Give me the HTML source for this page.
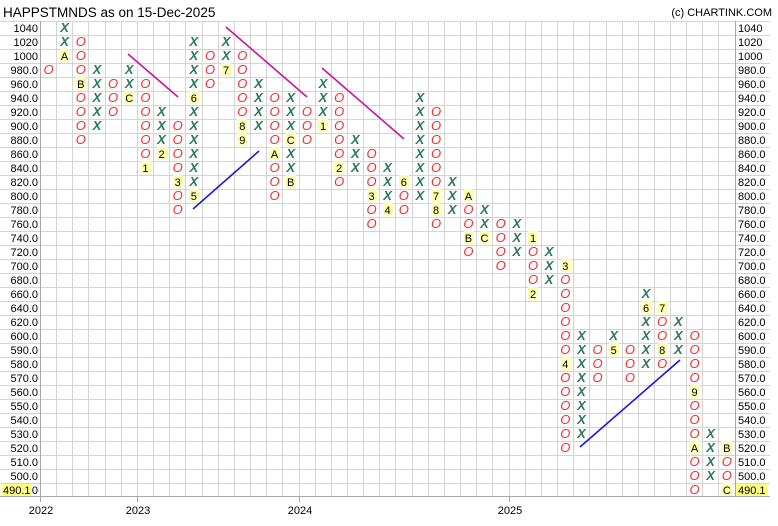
<!DOCTYPE html>
<html><head><meta charset="utf-8"><style>
html,body{margin:0;padding:0;background:#fff;}
svg{display:block;font-family:"Liberation Sans",sans-serif;}
.x{font-size:13px;font-style:italic;font-weight:bold;fill:#2a7a5a;text-anchor:middle;}
.o{font-size:13px;font-style:italic;fill:#ff2a2a;text-anchor:middle;}
.m{font-size:11px;fill:#000;text-anchor:middle;}
.l{font-size:11px;fill:#000;}
</style></head><body>
<svg width="778" height="526" viewBox="0 0 778 526" xmlns="http://www.w3.org/2000/svg">
<defs>
<g id="hl"><path d="M0 21.5H770" stroke="#d4d4d4"/></g>
</defs>
<g stroke="#d4d4d4" stroke-width="1" id="grid"></g>
<g stroke="#d4d4d4" stroke-width="1">
<path d="M0 21.5H770M0 35.5H770M0 49.5H770M0 63.5H770M0 77.5H770M0 91.5H770M0 105.5H770M0 119.5H770M0 133.5H770M0 147.5H770M0 161.5H770M0 175.5H770M0 189.5H770M0 203.5H770M0 217.5H770M0 231.5H770M0 245.5H770M0 259.5H770M0 273.5H770M0 287.5H770M0 301.5H770M0 315.5H770M0 329.5H770M0 343.5H770M0 357.5H770M0 371.5H770M0 385.5H770M0 399.5H770M0 413.5H770M0 427.5H770M0 441.5H770M0 455.5H770M0 469.5H770M0 483.5H770"/>
<path d="M56.5 21V496M72.5 21V496M88.5 21V496M105.5 21V496M121.5 21V496M137.5 21V496M153.5 21V496M169.5 21V496M185.5 21V496M202.5 21V496M218.5 21V496M234.5 21V496M250.5 21V496M266.5 21V496M282.5 21V496M299.5 21V496M315.5 21V496M331.5 21V496M347.5 21V496M363.5 21V496M379.5 21V496M395.5 21V496M412.5 21V496M428.5 21V496M444.5 21V496M460.5 21V496M476.5 21V496M492.5 21V496M509.5 21V496M525.5 21V496M541.5 21V496M557.5 21V496M573.5 21V496M589.5 21V496M606.5 21V496M622.5 21V496M638.5 21V496M654.5 21V496M670.5 21V496M686.5 21V496M702.5 21V496M718.5 21V496"/>
</g>
<g stroke="#a8a8a8" stroke-width="1">
<path d="M40.5 21V496M735.5 21V496M0 496.5H770"/>
<path d="M40.5 496V502M137.5 496V502M299.5 496V502M509.5 496V502"/>
</g>
<text x="3" y="17" style="font-size:13.5px" fill="#000">HAPPSTMNDS as on 15-Dec-2025</text>
<text x="772" y="16" style="font-size:11px;text-anchor:end" fill="#000">(c) CHARTINK.COM</text>
<g class="l" style="text-anchor:end">
<text x="38" y="32">1040</text><text x="38" y="46">1020</text><text x="38" y="60">1000</text><text x="38" y="74">980.0</text><text x="38" y="88">960.0</text><text x="38" y="102">940.0</text><text x="38" y="116">920.0</text><text x="38" y="130">900.0</text><text x="38" y="144">880.0</text><text x="38" y="158">860.0</text><text x="38" y="172">840.0</text><text x="38" y="186">820.0</text><text x="38" y="200">800.0</text><text x="38" y="214">780.0</text><text x="38" y="228">760.0</text><text x="38" y="242">740.0</text><text x="38" y="256">720.0</text><text x="38" y="270">700.0</text><text x="38" y="284">680.0</text><text x="38" y="298">660.0</text><text x="38" y="312">640.0</text><text x="38" y="326">620.0</text><text x="38" y="340">600.0</text><text x="38" y="354">590.0</text><text x="38" y="368">580.0</text><text x="38" y="382">570.0</text><text x="38" y="396">560.0</text><text x="38" y="410">550.0</text><text x="38" y="424">540.0</text><text x="38" y="438">530.0</text><text x="38" y="452">520.0</text><text x="38" y="466">510.0</text><text x="38" y="480">500.0</text><text x="38" y="494">490.0</text>
</g>
<rect x="2" y="484" width="30" height="12" fill="#ffff80"/>
<text x="3" y="494" class="l">490.1</text>
<g class="l">
<text x="738" y="32">1040</text><text x="738" y="46">1020</text><text x="738" y="60">1000</text><text x="738" y="74">980.0</text><text x="738" y="88">960.0</text><text x="738" y="102">940.0</text><text x="738" y="116">920.0</text><text x="738" y="130">900.0</text><text x="738" y="144">880.0</text><text x="738" y="158">860.0</text><text x="738" y="172">840.0</text><text x="738" y="186">820.0</text><text x="738" y="200">800.0</text><text x="738" y="214">780.0</text><text x="738" y="228">760.0</text><text x="738" y="242">740.0</text><text x="738" y="256">720.0</text><text x="738" y="270">700.0</text><text x="738" y="284">680.0</text><text x="738" y="298">660.0</text><text x="738" y="312">640.0</text><text x="738" y="326">620.0</text><text x="738" y="340">600.0</text><text x="738" y="354">590.0</text><text x="738" y="368">580.0</text><text x="738" y="382">570.0</text><text x="738" y="396">560.0</text><text x="738" y="410">550.0</text><text x="738" y="424">540.0</text><text x="738" y="438">530.0</text><text x="738" y="452">520.0</text><text x="738" y="466">510.0</text><text x="738" y="480">500.0</text>
</g>
<rect x="736" y="484" width="32" height="12" fill="#ffff80"/>
<text x="738" y="494" class="l">490.1</text>
<g class="l" style="text-anchor:middle">
<text x="41" y="514">2022</text><text x="138" y="514">2023</text><text x="300" y="514">2024</text><text x="510" y="514">2025</text>
</g>
<g fill="#ffffb0">
<rect x="60" y="49" width="10" height="13"/><rect x="76" y="77" width="10" height="13"/><rect x="124" y="91" width="10" height="13"/><rect x="141" y="161" width="10" height="13"/><rect x="157" y="147" width="10" height="13"/><rect x="173" y="175" width="10" height="13"/><rect x="189" y="91" width="10" height="13"/><rect x="189" y="189" width="10" height="13"/><rect x="221" y="63" width="10" height="13"/><rect x="237" y="119" width="10" height="13"/><rect x="237" y="133" width="10" height="13"/><rect x="270" y="147" width="10" height="13"/><rect x="286" y="133" width="10" height="13"/><rect x="286" y="175" width="10" height="13"/><rect x="318" y="119" width="10" height="13"/><rect x="334" y="161" width="10" height="13"/><rect x="367" y="189" width="10" height="13"/><rect x="383" y="203" width="10" height="13"/><rect x="399" y="175" width="10" height="13"/><rect x="431" y="189" width="10" height="13"/><rect x="431" y="203" width="10" height="13"/><rect x="464" y="189" width="10" height="13"/><rect x="464" y="231" width="10" height="13"/><rect x="480" y="231" width="10" height="13"/><rect x="528" y="231" width="10" height="13"/><rect x="528" y="287" width="10" height="13"/><rect x="561" y="259" width="10" height="13"/><rect x="561" y="357" width="10" height="13"/><rect x="609" y="343" width="10" height="13"/><rect x="642" y="301" width="10" height="13"/><rect x="658" y="301" width="10" height="13"/><rect x="658" y="343" width="10" height="13"/><rect x="690" y="385" width="10" height="13"/><rect x="690" y="441" width="10" height="13"/><rect x="722" y="441" width="10" height="13"/><rect x="722" y="483" width="10" height="13"/>
</g>
<g>
<g transform="translate(48.5,0)"><text class="o" y="74">O</text></g>
<g transform="translate(64.6,0)"><text class="x" y="32">X</text><text class="x" y="46">X</text><text class="m" y="60">A</text></g>
<g transform="translate(80.8,0)"><text class="o" y="46">O</text><text class="o" y="60">O</text><text class="o" y="74">O</text><text class="m" y="88">B</text><text class="o" y="102">O</text><text class="o" y="116">O</text><text class="o" y="130">O</text><text class="o" y="144">O</text></g>
<g transform="translate(96.9,0)"><text class="x" y="74">X</text><text class="x" y="88">X</text><text class="x" y="102">X</text><text class="x" y="116">X</text><text class="x" y="130">X</text></g>
<g transform="translate(113.1,0)"><text class="o" y="88">O</text><text class="o" y="102">O</text><text class="o" y="116">O</text></g>
<g transform="translate(129.2,0)"><text class="x" y="74">X</text><text class="x" y="88">X</text><text class="m" y="102">C</text></g>
<g transform="translate(145.4,0)"><text class="o" y="88">O</text><text class="o" y="102">O</text><text class="o" y="116">O</text><text class="o" y="130">O</text><text class="o" y="144">O</text><text class="o" y="158">O</text><text class="m" y="172">1</text></g>
<g transform="translate(161.5,0)"><text class="x" y="116">X</text><text class="x" y="130">X</text><text class="x" y="144">X</text><text class="m" y="158">2</text></g>
<g transform="translate(177.7,0)"><text class="o" y="130">O</text><text class="o" y="144">O</text><text class="o" y="158">O</text><text class="o" y="172">O</text><text class="m" y="186">3</text><text class="o" y="200">O</text><text class="o" y="214">O</text></g>
<g transform="translate(193.8,0)"><text class="x" y="46">X</text><text class="x" y="60">X</text><text class="x" y="74">X</text><text class="x" y="88">X</text><text class="m" y="102">6</text><text class="x" y="116">X</text><text class="x" y="130">X</text><text class="x" y="144">X</text><text class="x" y="158">X</text><text class="x" y="172">X</text><text class="x" y="186">X</text><text class="m" y="200">5</text></g>
<g transform="translate(210,0)"><text class="o" y="60">O</text><text class="o" y="74">O</text><text class="o" y="88">O</text></g>
<g transform="translate(226.1,0)"><text class="x" y="46">X</text><text class="x" y="60">X</text><text class="m" y="74">7</text></g>
<g transform="translate(242.3,0)"><text class="o" y="60">O</text><text class="o" y="74">O</text><text class="o" y="88">O</text><text class="o" y="102">O</text><text class="o" y="116">O</text><text class="m" y="130">8</text><text class="m" y="144">9</text></g>
<g transform="translate(258.4,0)"><text class="x" y="88">X</text><text class="x" y="102">X</text><text class="x" y="116">X</text><text class="x" y="130">X</text></g>
<g transform="translate(274.6,0)"><text class="o" y="102">O</text><text class="o" y="116">O</text><text class="o" y="130">O</text><text class="o" y="144">O</text><text class="m" y="158">A</text><text class="o" y="172">O</text><text class="o" y="186">O</text><text class="o" y="200">O</text></g>
<g transform="translate(290.7,0)"><text class="x" y="102">X</text><text class="x" y="116">X</text><text class="x" y="130">X</text><text class="m" y="144">C</text><text class="x" y="158">X</text><text class="x" y="172">X</text><text class="m" y="186">B</text></g>
<g transform="translate(306.9,0)"><text class="o" y="116">O</text><text class="o" y="130">O</text><text class="o" y="144">O</text></g>
<g transform="translate(323,0)"><text class="x" y="88">X</text><text class="x" y="102">X</text><text class="x" y="116">X</text><text class="m" y="130">1</text></g>
<g transform="translate(339.2,0)"><text class="o" y="102">O</text><text class="o" y="116">O</text><text class="o" y="130">O</text><text class="o" y="144">O</text><text class="o" y="158">O</text><text class="m" y="172">2</text><text class="o" y="186">O</text></g>
<g transform="translate(355.3,0)"><text class="x" y="144">X</text><text class="x" y="158">X</text><text class="x" y="172">X</text></g>
<g transform="translate(371.5,0)"><text class="o" y="158">O</text><text class="o" y="172">O</text><text class="o" y="186">O</text><text class="m" y="200">3</text><text class="o" y="214">O</text><text class="o" y="228">O</text></g>
<g transform="translate(387.6,0)"><text class="x" y="172">X</text><text class="x" y="186">X</text><text class="x" y="200">X</text><text class="m" y="214">4</text></g>
<g transform="translate(403.8,0)"><text class="m" y="186">6</text><text class="o" y="200">O</text><text class="o" y="214">O</text></g>
<g transform="translate(419.9,0)"><text class="x" y="102">X</text><text class="x" y="116">X</text><text class="x" y="130">X</text><text class="x" y="144">X</text><text class="x" y="158">X</text><text class="x" y="172">X</text><text class="x" y="186">X</text><text class="x" y="200">X</text></g>
<g transform="translate(436.1,0)"><text class="o" y="116">O</text><text class="o" y="130">O</text><text class="o" y="144">O</text><text class="o" y="158">O</text><text class="o" y="172">O</text><text class="o" y="186">O</text><text class="m" y="200">7</text><text class="m" y="214">8</text><text class="o" y="228">O</text></g>
<g transform="translate(452.2,0)"><text class="x" y="186">X</text><text class="x" y="200">X</text><text class="x" y="214">X</text></g>
<g transform="translate(468.4,0)"><text class="m" y="200">A</text><text class="o" y="214">O</text><text class="o" y="228">O</text><text class="m" y="242">B</text><text class="o" y="256">O</text></g>
<g transform="translate(484.5,0)"><text class="x" y="214">X</text><text class="x" y="228">X</text><text class="m" y="242">C</text></g>
<g transform="translate(500.7,0)"><text class="o" y="228">O</text><text class="o" y="242">O</text><text class="o" y="256">O</text><text class="o" y="270">O</text></g>
<g transform="translate(516.8,0)"><text class="x" y="228">X</text><text class="x" y="242">X</text><text class="x" y="256">X</text></g>
<g transform="translate(533,0)"><text class="m" y="242">1</text><text class="o" y="256">O</text><text class="o" y="270">O</text><text class="o" y="284">O</text><text class="m" y="298">2</text></g>
<g transform="translate(549.1,0)"><text class="x" y="256">X</text><text class="x" y="270">X</text><text class="x" y="284">X</text></g>
<g transform="translate(565.3,0)"><text class="m" y="270">3</text><text class="o" y="284">O</text><text class="o" y="298">O</text><text class="o" y="312">O</text><text class="o" y="326">O</text><text class="o" y="340">O</text><text class="o" y="354">O</text><text class="m" y="368">4</text><text class="o" y="382">O</text><text class="o" y="396">O</text><text class="o" y="410">O</text><text class="o" y="424">O</text><text class="o" y="438">O</text><text class="o" y="452">O</text></g>
<g transform="translate(581.4,0)"><text class="x" y="340">X</text><text class="x" y="354">X</text><text class="x" y="368">X</text><text class="x" y="382">X</text><text class="x" y="396">X</text><text class="x" y="410">X</text><text class="x" y="424">X</text><text class="x" y="438">X</text></g>
<g transform="translate(597.6,0)"><text class="o" y="354">O</text><text class="o" y="368">O</text><text class="o" y="382">O</text></g>
<g transform="translate(613.7,0)"><text class="x" y="340">X</text><text class="m" y="354">5</text></g>
<g transform="translate(629.9,0)"><text class="o" y="354">O</text><text class="o" y="368">O</text><text class="o" y="382">O</text></g>
<g transform="translate(646,0)"><text class="x" y="298">X</text><text class="m" y="312">6</text><text class="x" y="326">X</text><text class="x" y="340">X</text><text class="x" y="354">X</text><text class="x" y="368">X</text></g>
<g transform="translate(662.2,0)"><text class="m" y="312">7</text><text class="o" y="326">O</text><text class="o" y="340">O</text><text class="m" y="354">8</text><text class="o" y="368">O</text></g>
<g transform="translate(678.3,0)"><text class="x" y="326">X</text><text class="x" y="340">X</text><text class="x" y="354">X</text></g>
<g transform="translate(694.5,0)"><text class="o" y="340">O</text><text class="o" y="354">O</text><text class="o" y="368">O</text><text class="o" y="382">O</text><text class="m" y="396">9</text><text class="o" y="410">O</text><text class="o" y="424">O</text><text class="o" y="438">O</text><text class="m" y="452">A</text><text class="o" y="466">O</text><text class="o" y="480">O</text><text class="o" y="494">O</text></g>
<g transform="translate(710.6,0)"><text class="x" y="438">X</text><text class="x" y="452">X</text><text class="x" y="466">X</text><text class="x" y="480">X</text></g>
<g transform="translate(726.8,0)"><text class="m" y="452">B</text><text class="o" y="466">O</text><text class="o" y="480">O</text><text class="m" y="494">C</text></g>
</g>
<g stroke-width="1.6" fill="none">
<path d="M128 54L178 97M226 27L307 97M322 68L404 139" stroke="#c8149c"/>
<path d="M193 209L259 151M580 447L680 360" stroke="#1a1ad8"/>
</g>
</svg>
</body></html>
